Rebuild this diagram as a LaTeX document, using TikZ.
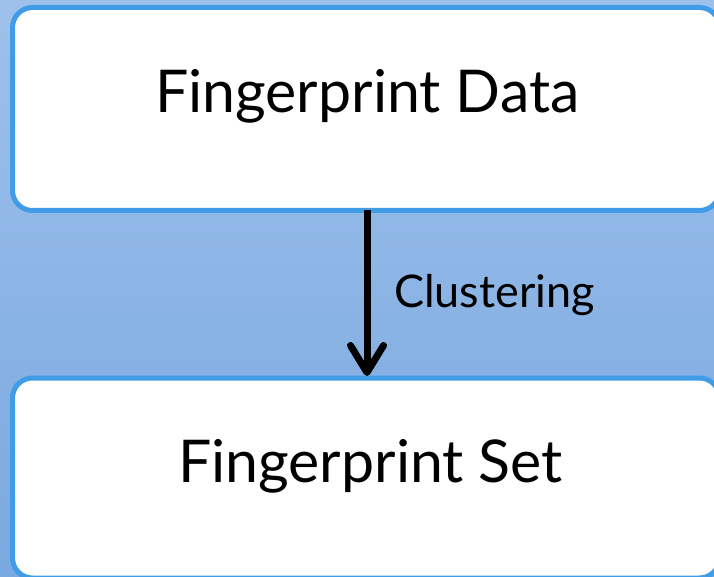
\documentclass[tikz,border=0pt]{standalone}
\usepackage{fontspec}
\setmainfont{Lato}
\usetikzlibrary{arrows.meta}
\definecolor{bgtop}{RGB}{158,193,235}
\definecolor{bgbot}{RGB}{122,168,224}
\definecolor{boxline}{RGB}{64,156,230}
\begin{document}
\begin{tikzpicture}[x=1pt,y=1pt,
  panel/.style={draw=boxline, line width=5pt, fill=white, rounded corners=20pt,
    inner sep=0pt, outer sep=0pt},
  bigtext/.style={font=\fontsize{59}{66}\selectfont, inner sep=0pt, anchor=base west},
  smalltext/.style={font=\fontsize{45}{52}\selectfont, inner sep=0pt, anchor=base west},
  flow/.style={line width=7pt, -{Straight Barb[round,length=27pt,width=33pt]}}]
\useasboundingbox (0,0) rectangle (714,576);
\shade[top color=bgtop, bottom color=bgbot] (0,0) rectangle (714,576);
\node[panel, minimum width=707pt, minimum height=203pt] (data) at (366,467) {};
\node[panel, minimum width=707pt, minimum height=200pt] (set) at (366,98) {};
\node[bigtext] (datatext) at (155,463) {Fingerprint Data};
\node[bigtext] (settext) at (178,94) {Fingerprint Set};
\node[smalltext] (cluster) at (394,268) {Clustering};
\draw[flow] ([xshift=1pt]data.south) -- ([xshift=1pt,yshift=2pt]set.north);
\end{tikzpicture}
\end{document}
